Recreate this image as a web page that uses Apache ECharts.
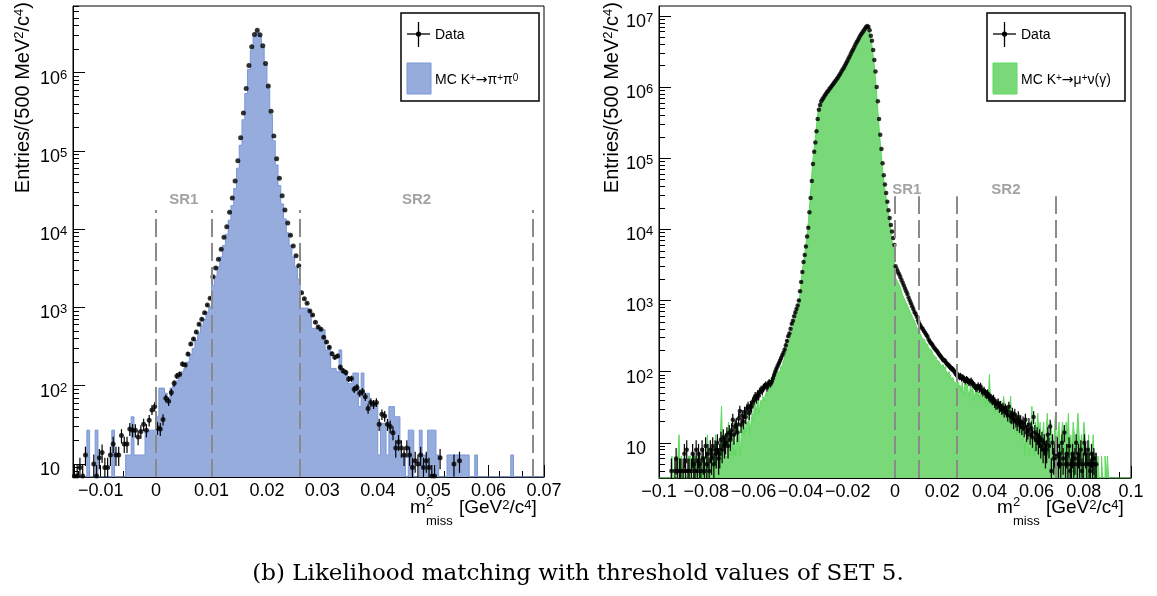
<!DOCTYPE html>
<html>
<head>
  <meta charset="utf-8">
  <script src="https://cdn.jsdelivr.net/npm/echarts@6.0.0/dist/echarts.min.js"></script>
  <style>
    body { margin: 0; background: #fff; }
    #chart { width: 1157px; height: 596px; }
  </style>
</head>
<body>
  <div id="chart"></div>
  <script>
    // histogram bins, 500 MeV^2/c^4 wide
    var binWidth = 0.0005;
    var leftStart = -0.015, leftEnd = 0.07;
    var rightStart = -0.1, rightEnd = 0.1;

    // K+ -> pi+ pi0 panel (170 bins from -0.015)
    var leftData = [
      7, 7, 9, 7, 13, 0, 0, 10, 7, 12,
      14, 9, 9, 13, 18, 13, 13, 23, 18, 18,
      28, 27, 27, 22, 26, 32, 27, 36, 49, 54,
      29, 28, 37, 69, 63, 82, 107, 133, 140, 189,
      184, 254, 341, 394, 485, 608, 705, 855, 1074, 1306,
      2466, 3184, 4111, 5521, 7852, 10740, 16400, 24950, 41100, 74800,
      146900, 304000, 628000, 1236000, 2138000, 3076000, 3491000, 3050000, 2198000, 1309000,
      673000, 322000, 154500, 79250, 44570, 26730, 17540, 11970, 8337, 6081,
      4571, 3412, 1542, 1292, 1128, 900, 800, 645, 562, 525,
      415, 361, 309, 256, 230, 240, 172, 155, 147, 122,
      123, 90, 95, 80, 84, 72, 51, 61, 58, 61,
      32, 43, 41, 32, 30, 25, 16, 19, 16, 13,
      16, 13, 9, 11, 10, 13, 9, 11, 9, 7,
      7, 0, 12, 0, 0, 0, 0, 10, 0, 11,
      0, 0, 0, 0, 0, 0, 0, 0, 0, 0,
      0, 0, 0, 0, 0, 0, 0, 0, 0, 0,
      0, 0, 0, 0, 0, 0, 0, 0, 0, 0
    ];
    var leftMC = [
      0, 0, 0, 0, 0, 27, 0, 0, 27, 0,
      0, 0, 0, 0, 27, 0, 0, 0, 0, 13,
      13, 40, 13, 13, 13, 13, 27, 27, 27, 27,
      40, 93, 93, 80, 67, 93, 100, 115, 125, 150,
      165, 200, 250, 300, 380, 470, 580, 700, 870, 1020,
      1900, 2500, 3300, 4400, 6200, 8600, 13000, 20000, 33000, 60000,
      118000, 250000, 540000, 1100000, 1950000, 2900000, 3300000, 2950000, 2100000, 1250000,
      630000, 290000, 135000, 66000, 36000, 21000, 13500, 9000, 6200, 4400,
      3300, 2300, 980, 980, 980, 900, 540, 540, 540, 520,
      520, 286, 315, 166, 166, 150, 286, 145, 145, 107,
      107, 145, 145, 54, 145, 80, 80, 60, 60, 60,
      13, 33, 33, 13, 54, 54, 40, 40, 13, 13,
      0, 27, 27, 0, 0, 27, 13, 13, 27, 27,
      27, 13, 0, 0, 0, 13, 13, 13, 13, 13,
      13, 13, 13, 0, 0, 13, 0, 0, 0, 0,
      0, 0, 0, 0, 0, 0, 0, 0, 13, 0,
      0, 0, 0, 0, 0, 0, 0, 0, 0, 0
    ];

    // K+ -> mu+ nu(gamma) panel (400 bins from -0.1)
    var rightData = [
      0, 0, 0, 0, 0, 0, 0, 0, 0, 0,
      4, 0, 0, 4, 6, 4, 0, 4, 4, 0,
      4, 7, 4, 8, 4, 4, 0, 4, 7, 5,
      4, 8, 4, 7, 5, 4, 8, 6, 4, 9,
      5, 7, 4, 8, 6, 9, 5, 8, 7, 10,
      6, 7, 11, 8, 12, 9, 10, 13, 9, 14,
      11, 15, 21, 13, 17, 18, 14, 22, 28, 18,
      24, 20, 27, 23, 30, 32, 26, 33, 32, 38,
      40, 45, 42, 48, 46, 52, 56, 54, 60, 62,
      65, 60, 67, 70, 68, 72, 80, 90, 100, 110,
      120, 130, 142, 155, 170, 185, 205, 235, 270, 315,
      345, 400, 470, 520, 600, 680, 760, 850, 1000, 1350,
      1820, 2510, 3470, 4370, 5750, 7940, 10500, 17400, 27500, 47900,
      83200, 123000, 166000, 240000, 355000, 479000, 562000, 631000, 676000, 716000,
      759000, 804000, 851000, 891000, 944000, 989000, 1047000, 1096000, 1161000, 1216000,
      1288000, 1349000, 1445000, 1531000, 1641000, 1758000, 1862000, 1995000, 2138000, 2317000,
      2512000, 2692000, 2917000, 3162000, 3388000, 3673000, 3981000, 4266000, 4571000, 4898000,
      5248000, 5559000, 5888000, 6237000, 6607000, 6998000, 7244000, 6998000, 6310000, 5248000,
      4467000, 3311000, 2399000, 1660000, 1000000, 631000, 355000, 214000, 135000, 85100,
      57500, 42700, 32400, 24500, 18600, 14500, 11500, 9330, 7590, 6030,
      3020, 2750, 2510, 2340, 2140, 1950, 1780, 1620, 1480, 1350,
      1230, 1100, 1000, 912, 832, 759, 692, 646, 589, 525,
      479, 447, 417, 398, 372, 351, 331, 313, 282, 266,
      251, 240, 226, 214, 204, 195, 184, 174, 166, 157,
      148, 145, 141, 132, 126, 123, 117, 112, 110, 105,
      100, 93, 91, 89, 85, 87, 81, 83, 79, 74,
      78, 76, 72, 71, 74, 68, 66, 63, 60, 59,
      63, 58, 62, 55, 52, 54, 50, 48, 49, 45,
      43, 42, 40, 41, 37, 35, 35, 36, 32, 33,
      30, 31, 28, 30, 28, 25, 32, 24, 23, 26,
      20, 25, 21, 19, 23, 18, 20, 17, 19, 16,
      21, 14, 15, 18, 13, 16, 12, 23, 14, 11,
      13, 10, 12, 9, 11, 8, 10, 7, 8, 13,
      9, 17, 4, 10, 6, 7, 5, 9, 5, 7,
      5, 10, 6, 14, 5, 7, 5, 9, 4, 5,
      7, 5, 6, 10, 5, 7, 5, 8, 4, 5,
      10, 7, 5, 8, 5, 4, 7, 5, 6, 5,
      5, 0, 0, 0, 0, 0, 0, 0, 0, 0,
      0, 0, 0, 0, 0, 0, 0, 0, 0, 0,
      0, 0, 0, 0, 0, 0, 0, 0, 0, 0
    ];
    var rightMC = [
      0, 0, 0, 0, 0, 0, 0, 0, 0, 0,
      0, 6.5, 0, 0, 0, 0, 6.5, 13, 0, 6.5,
      0, 0, 6.5, 0, 0, 6.5, 6.5, 0, 0, 6.5,
      6.5, 0, 6.5, 6.5, 0, 0, 6.5, 0, 6.5, 0,
      6.5, 13, 6.5, 0, 6.5, 6.5, 0, 6.5, 13, 6.5,
      6.5, 0, 13, 32.5, 6.5, 13, 6.5, 6.5, 13, 19.5,
      13, 6.5, 19.5, 6.5, 13, 6.5, 13, 19.5, 13, 6.5,
      19.5, 13, 19.5, 13, 19.5, 19.5, 26, 13, 19.5, 26,
      19.5, 45.5, 26, 32.5, 45.5, 26, 39, 39, 45.5, 39,
      45.5, 52, 45.5, 78, 58.5, 65, 78, 84.5, 97.5, 104,
      117, 97.5, 104, 117, 123.5, 136.5, 149.5, 175.5, 201.5, 234,
      260, 299, 351, 390, 455, 520, 585, 663, 780, 1050,
      1450, 2250, 3100, 3950, 5200, 7200, 9600, 16000, 25500, 44500,
      78000, 117000, 160000, 232000, 345000, 468000, 552000, 620000, 662000, 702000,
      744000, 788000, 834000, 873000, 925000, 969000, 1026000, 1074000, 1138000, 1192000,
      1262000, 1322000, 1416000, 1500000, 1608000, 1723000, 1825000, 1955000, 2095000, 2271000,
      2462000, 2638000, 2859000, 3099000, 3320000, 3600000, 3901000, 4181000, 4480000, 4800000,
      5143000, 5448000, 5770000, 6112000, 6475000, 6858000, 7100000, 6858000, 6184000, 5143000,
      4378000, 3245000, 2351000, 1627000, 980000, 618000, 348000, 210000, 132000, 83400,
      56400, 41800, 31800, 24000, 18200, 14200, 11300, 7800, 6200, 4900,
      2140, 1995, 1862, 1738, 1585, 1445, 1259, 1122, 1047, 955,
      891, 813, 741, 676, 631, 575, 537, 490, 437, 398,
      380, 347, 324, 295, 282, 269, 251, 240, 224, 209,
      200, 191, 178, 166, 158, 148, 141, 145, 132, 120,
      126, 112, 117, 105, 95, 100, 81, 89, 76, 83,
      72, 69, 66, 71.5, 58.5, 65, 52, 71.5, 45.5, 65,
      58.5, 78, 52, 45.5, 65, 52, 58.5, 39, 52, 65,
      45.5, 52, 39, 58.5, 45.5, 39, 52, 32.5, 45.5, 39,
      91, 39, 32.5, 45.5, 39, 26, 39, 32.5, 26, 39,
      32.5, 26, 45.5, 32.5, 26, 32.5, 19.5, 26, 45.5, 19.5,
      26, 19.5, 26, 13, 19.5, 26, 13, 19.5, 13, 19.5,
      6.5, 13, 19.5, 13, 6.5, 13, 32.5, 13, 6.5, 19.5,
      13, 26, 13, 19.5, 6.5, 13, 19.5, 6.5, 13, 26,
      13, 6.5, 19.5, 13, 6.5, 13, 26, 6.5, 13, 19.5,
      6.5, 13, 19.5, 13, 6.5, 19.5, 13, 26, 6.5, 13,
      6.5, 19.5, 13, 6.5, 13, 26, 13, 6.5, 13, 6.5,
      19.5, 13, 6.5, 6.5, 13, 6.5, 0, 6.5, 13, 0,
      6.5, 0, 6.5, 0, 0, 6.5, 0, 0, 6.5, 0,
      6.5, 0, 0, 0, 0, 0, 0, 0, 0, 0,
      0, 0, 0, 0, 0, 0, 0, 0, 0, 0
    ];

    // signal region edges and names
    var srEdges = [0, 0.01, 0.026, 0.068];
    var srNames = ['SR1', 'SR2'];
    var srCentres = [0.005, 0.047];

    // axis ticks
    var leftXTicks = [-0.01, 0, 0.01, 0.02, 0.03, 0.04, 0.05, 0.06, 0.07];
    var rightXTicks = [-0.1, -0.08, -0.06, -0.04, -0.02, 0, 0.02, 0.04, 0.06, 0.08, 0.1];
    var leftYTicks = [10, 100, 1000, 10000, 100000, 1000000];
    var rightYTicks = [10, 100, 1000, 10000, 100000, 1000000, 10000000];
    var leftYRange = [6.8, 7.1e6];
    var rightYRange = [3.2, 1.38e7];

    var font = 'Liberation Sans, Arial, sans-serif';
    var blueFill = '#95acdc', blueLine = '#7b98d6';
    var greenFill = '#79d979', greenLine = '#5fd85f';

    function seq(a, b, step) {
      var out = [];
      for (var v = a; v <= b + 1e-9; v += step) out.push(+v.toFixed(4));
      return out;
    }
    function logMinor(range) {
      var out = [];
      for (var e = 0; e < 8; e++) {
        for (var m = 2; m <= 9; m++) {
          var v = m * Math.pow(10, e);
          if (v >= range[0] && v <= range[1]) out.push(v);
        }
      }
      return out;
    }

    // outline of a filled histogram: two points per bin
    function stepLine(counts, start, yMin) {
      var pts = [[start, yMin]];
      counts.forEach(function (c, i) {
        var v = c > yMin ? c : yMin;
        pts.push([start + i * binWidth, v], [start + (i + 1) * binWidth, v]);
      });
      pts.push([start + counts.length * binWidth, yMin]);
      return pts;
    }
    function binPoints(counts, start) {
      var out = [];
      counts.forEach(function (c, i) {
        if (c > 0) out.push([start + (i + 0.5) * binWidth, c]);
      });
      return out;
    }

    function fmtX(v) {
      if (v === 0) return '0';
      return (v < 0 ? '\u2212' : '') + String(Math.abs(v));
    }
    function fmtPow(v) {
      var n = Math.round(Math.log10(v));
      return n === 1 ? '{b|10}' : '{b|10}{s|' + n + '}';
    }

    function mainX(grid, min, max, ticks) {
      return {
        type: 'value', gridIndex: grid, min: min, max: max, position: 'bottom',
        axisLine: { show: true, onZero: false, lineStyle: { color: '#000', width: 1 } },
        axisTick: { show: true, inside: true, length: 12, customValues: ticks, lineStyle: { color: '#000', width: 1 } },
        axisLabel: { show: true, customValues: ticks, formatter: fmtX, margin: 5, hideOverlap: false,
          color: '#000', fontSize: 18, fontFamily: font },
        splitLine: { show: false }
      };
    }
    function minorX(grid, min, max, ticks) {
      return {
        type: 'value', gridIndex: grid, min: min, max: max, position: 'bottom',
        axisLine: { show: false, onZero: false },
        axisTick: { show: true, inside: true, length: 6, customValues: ticks, lineStyle: { color: '#000', width: 1 } },
        axisLabel: { show: false },
        splitLine: { show: false }
      };
    }
    function mainY(grid, range, ticks) {
      return {
        type: 'log', logBase: 10, gridIndex: grid, min: range[0], max: range[1], position: 'left',
        axisLine: { show: true, onZero: false, lineStyle: { color: '#000', width: 1 } },
        axisTick: { show: true, inside: true, length: 12, customValues: ticks, lineStyle: { color: '#000', width: 1 } },
        axisLabel: {
          show: true, customValues: ticks, formatter: fmtPow, align: 'left', margin: 33,
          padding: [12, 0, 0, 0], hideOverlap: false,
          rich: {
            b: { fontSize: 18, fontFamily: font, color: '#000', lineHeight: 20 },
            s: { fontSize: 13, fontFamily: font, color: '#000', lineHeight: 13, verticalAlign: 'top' }
          }
        },
        splitLine: { show: false }
      };
    }
    function minorY(grid, range) {
      return {
        type: 'log', logBase: 10, gridIndex: grid, min: range[0], max: range[1], position: 'left',
        axisLine: { show: false, onZero: false },
        axisTick: { show: true, inside: true, length: 6, customValues: logMinor(range), lineStyle: { color: '#000', width: 1 } },
        axisLabel: { show: false },
        splitLine: { show: false }
      };
    }

    function panelSeries(ax, data, mc, start, yRange, fill, line, srTop, srLabelY, dot) {
      var pts = binPoints(data, start);
      return [
        {
          type: 'line', xAxisIndex: ax, yAxisIndex: ax, data: stepLine(mc, start, yRange[0]),
          showSymbol: false, symbol: 'none', silent: true, z: 2,
          lineStyle: { color: line, width: 1 },
          areaStyle: { color: fill, opacity: 1, origin: 'start' }
        },
        {
          type: 'custom', xAxisIndex: ax, yAxisIndex: ax, data: pts, clip: true, silent: true, z: 3,
          renderItem: function (params, api) {
            var x = api.value(0), c = api.value(1), e = Math.sqrt(c);
            var a = api.coord([x, c + e]);
            var b = api.coord([x, Math.max(c - e, yRange[0])]);
            return { type: 'line', shape: { x1: a[0], y1: a[1], x2: b[0], y2: b[1] },
              style: { stroke: '#000', lineWidth: 1.2 } };
          }
        },
        {
          type: 'scatter', xAxisIndex: ax, yAxisIndex: ax, data: pts, symbol: 'circle', symbolSize: dot,
          itemStyle: { color: '#000' }, silent: true, z: 4,
          markLine: {
            silent: true, symbol: ['none', 'none'], label: { show: false },
            lineStyle: { type: [18, 6], color: '#8a8a8a', width: 2 },
            data: srEdges.map(function (x) { return [{ coord: [x, yRange[0]] }, { coord: [x, srTop] }]; })
          }
        },
        {
          type: 'scatter', xAxisIndex: ax, yAxisIndex: ax, symbolSize: 1, silent: true, z: 5,
          itemStyle: { color: 'transparent' },
          data: srNames.map(function (n, i) { return [srCentres[i], srLabelY, n]; }),
          label: { show: true, position: 'inside', formatter: function (p) { return p.data[2]; },
            color: '#8c8c8c', fontWeight: 'bold', fontSize: 15, fontFamily: font }
        }
      ];
    }

    function legend(x, mcRich, fill, line) {
      var t = { fontSize: 14, fontFamily: font, fill: '#000' };
      return {
        type: 'group', x: x, y: 13, z: 100, silent: true,
        children: [
          { type: 'rect', shape: { x: 0, y: 0, width: 138, height: 88 }, style: { fill: '#fff', stroke: '#000', lineWidth: 1.5 } },
          { type: 'line', shape: { x1: 6, y1: 21, x2: 29, y2: 21 }, style: { stroke: '#000', lineWidth: 1.3 } },
          { type: 'line', shape: { x1: 17.5, y1: 9, x2: 17.5, y2: 34 }, style: { stroke: '#000', lineWidth: 1.3 } },
          { type: 'circle', shape: { cx: 17.5, cy: 21, r: 2.6 }, style: { fill: '#000' } },
          { type: 'text', x: 34, y: 22, style: { text: 'Data', fontSize: 14, fontFamily: font, fill: '#000', verticalAlign: 'middle' } },
          { type: 'rect', shape: { x: 6, y: 50, width: 24, height: 31 }, style: { fill: fill, stroke: line, lineWidth: 1 } },
          { type: 'text', x: 34, y: 67, style: { text: mcRich, fontSize: 14, fontFamily: font, fill: '#000', verticalAlign: 'middle',
            rich: {
              t: t,
              a: { fontSize: 14, fontFamily: 'DejaVu Sans, sans-serif', fill: '#000' },
              s: { fontSize: 10, fontFamily: font, fill: '#000', verticalAlign: 'top', lineHeight: 10 }
            } } }
        ]
      };
    }

    function xTitle(x) {
      var base = { fontFamily: font, fill: '#000', verticalAlign: 'middle' };
      return {
        type: 'group', x: x, y: 0, silent: true,
        children: [
          { type: 'text', x: 0, y: 508, style: Object.assign({ text: 'm', fontSize: 19 }, base) },
          { type: 'text', x: 16, y: 502, style: Object.assign({ text: '2', fontSize: 13 }, base) },
          { type: 'text', x: 16, y: 521, style: Object.assign({ text: 'miss', fontSize: 13 }, base) },
          { type: 'text', x: 49, y: 508, style: Object.assign({ text: '[GeV{s|2}/c{s|4}]', fontSize: 19,
            rich: { s: { fontSize: 13, fontFamily: font, fill: '#000', verticalAlign: 'top', lineHeight: 13 } } }, base) }
        ]
      };
    }
    function yTitle(x) {
      return {
        type: 'text', x: x, y: 2, rotation: Math.PI / 2, silent: true,
        style: { text: 'Entries/(500 MeV{s|2}/c{s|4})', fontSize: 20, fontFamily: font, fill: '#000',
          align: 'right', verticalAlign: 'middle',
          rich: { s: { fontSize: 13, fontFamily: font, fill: '#000', verticalAlign: 'top', lineHeight: 13 } } }
      };
    }

    var chart = echarts.init(document.getElementById('chart'));
    var option = {
      animation: false,
      backgroundColor: '#fff',
      grid: [
        { left: 73, top: 6, width: 471, height: 471, show: true, borderColor: '#000', borderWidth: 1 },
        { left: 659, top: 6, width: 472, height: 472, show: true, borderColor: '#000', borderWidth: 1 }
      ],
      xAxis: [
        mainX(0, leftStart, leftEnd, leftXTicks),
        minorX(0, leftStart, leftEnd, seq(-0.014, 0.07, 0.002)),
        mainX(1, rightStart, rightEnd, rightXTicks),
        minorX(1, rightStart, rightEnd, seq(-0.1, 0.1, 0.005))
      ],
      yAxis: [
        mainY(0, leftYRange, leftYTicks),
        minorY(0, leftYRange),
        mainY(1, rightYRange, rightYTicks),
        minorY(1, rightYRange)
      ],
      series: []
        .concat(panelSeries(0, leftData, leftMC, leftStart, leftYRange, blueFill, blueLine, 17500, 23400, 5))
        .concat(panelSeries(2, rightData, rightMC, rightStart, rightYRange, greenFill, greenLine, 29200, 35500, 4.5)),
      graphic: [
        legend(401, '{t|MC K}{s|+}{a|\u2192}{t|\u03c0}{s|+}{t|\u03c0}{s|0}', blueFill, blueLine),
        legend(987, '{t|MC K}{s|+}{a|\u2192}{t|\u03bc}{s|+}{t|\u03bd(\u03b3)}', greenFill, greenLine),
        xTitle(410),
        xTitle(997),
        yTitle(23),
        yTitle(612),
        {
          type: 'text', x: 578, y: 574, silent: true,
          style: { text: '(b) Likelihood matching with threshold values of SET 5.', fontSize: 23,
            fontFamily: 'DejaVu Serif, serif', fill: '#000', align: 'center', verticalAlign: 'middle' }
        }
      ]
    };
    chart.setOption(option);
  </script>
</body>
</html>
